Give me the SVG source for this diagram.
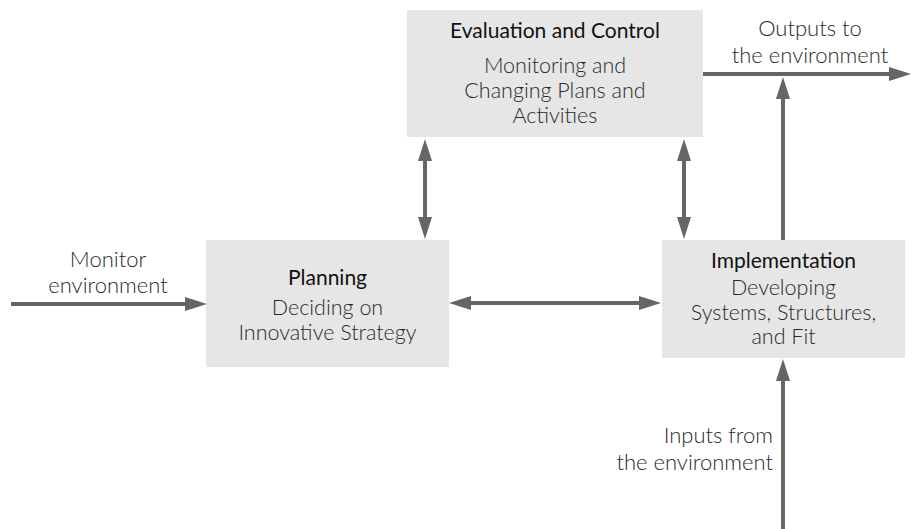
<svg xmlns="http://www.w3.org/2000/svg" width="912" height="529" viewBox="0 0 912 529">
<style>
.box{fill:#e6e6e6}
.title{font-family:Lato,"Liberation Sans",sans-serif;font-size:21px;font-weight:400;fill:#111;text-anchor:middle}
.sub{font-family:Lato,"Liberation Sans",sans-serif;font-size:21.5px;font-weight:300;fill:#2a2a2a;text-anchor:middle}
.lbl{font-family:Lato,"Liberation Sans",sans-serif;font-size:22px;font-weight:300;fill:#2a2a2a;text-anchor:middle}
.conn{stroke:#666;stroke-width:4;fill:none}
</style>
<defs>
<marker id="ah" markerUnits="userSpaceOnUse" markerWidth="22" markerHeight="14" viewBox="0 0 22 14" refX="12" refY="7" orient="auto-start-reverse">
<path d="M0,0 L22,7 L0,14 z" fill="#666"/>
</marker>
</defs>
<rect width="912" height="529" fill="#fff"/>
<g id="evaluation">
<rect class="box" x="407" y="10" width="296" height="127"/>
<text class="title" x="555" y="38">Evaluation and Control</text>
<text class="sub" x="555" y="73">Monitoring and</text>
<text class="sub" x="555" y="98">Changing Plans and</text>
<text class="sub" x="555" y="123">Activities</text>
</g>
<g id="planning">
<rect class="box" x="206" y="240" width="243" height="127"/>
<text class="title" x="327.5" y="285">Planning</text>
<text class="sub" x="327.5" y="315">Deciding on</text>
<text class="sub" x="327.5" y="340">Innovative Strategy</text>
</g>
<g id="implementation">
<rect class="box" x="662" y="240" width="243" height="118"/>
<text class="title" x="783.5" y="268">Implementation</text>
<text class="sub" x="783.5" y="295">Developing</text>
<text class="sub" x="783.5" y="320">Systems, Structures,</text>
<text class="sub" x="783.5" y="344">and Fit</text>
</g>
<g id="labels">
<text class="lbl" x="108" y="267">Monitor</text>
<text class="lbl" x="108" y="293">environment</text>
<text class="lbl" x="810" y="36">Outputs to</text>
<text class="lbl" x="810" y="63">the environment</text>
<text class="lbl" x="773" y="443" style="text-anchor:end">Inputs from</text>
<text class="lbl" x="773" y="470" style="text-anchor:end">the environment</text>
</g>
<g id="connectors">
<line class="conn" x1="11" y1="304" x2="197" y2="304" marker-end="url(#ah)"/>
<line class="conn" x1="459" y1="303" x2="651" y2="303" marker-start="url(#ah)" marker-end="url(#ah)"/>
<line class="conn" x1="425" y1="149" x2="425" y2="229" marker-start="url(#ah)" marker-end="url(#ah)"/>
<line class="conn" x1="684" y1="149" x2="684" y2="229" marker-start="url(#ah)" marker-end="url(#ah)"/>
<line class="conn" x1="703" y1="74" x2="901" y2="74" marker-end="url(#ah)"/>
<line class="conn" x1="783" y1="240" x2="783" y2="87" marker-end="url(#ah)"/>
<line class="conn" x1="783" y1="529" x2="783" y2="369" marker-end="url(#ah)"/>
</g>
</svg>
